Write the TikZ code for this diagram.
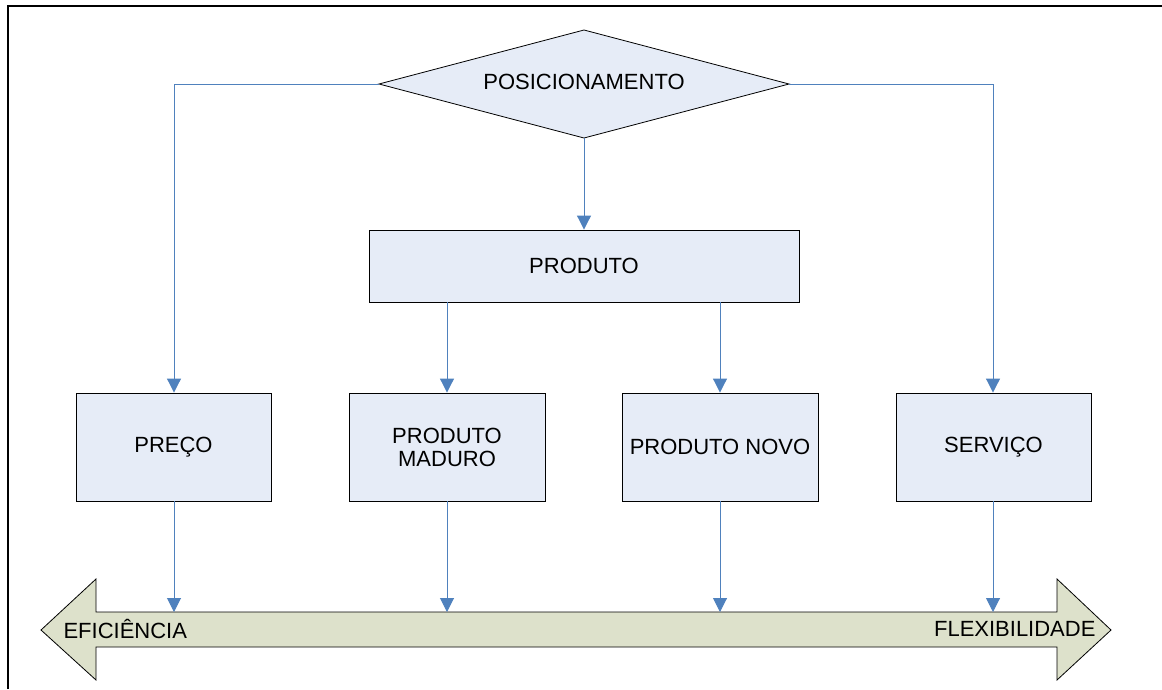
\documentclass[tikz,border=0pt]{standalone}
\usepackage{fontspec}
\setmainfont{Liberation Sans}
\usetikzlibrary{arrows.meta,shapes.geometric}
\definecolor{boxfill}{HTML}{E6ECF7}
\definecolor{arrowfill}{HTML}{DDE1CB}
\definecolor{conn}{HTML}{4F81BD}
\tikzset{
  lbl/.style={font=\fontsize{22}{23}\selectfont, text=black},
  box/.style={draw=black, line width=0.9pt, fill=boxfill, inner sep=0pt, lbl, align=center},
  conn/.style={draw=conn, line width=1pt, -{Triangle[width=14pt,length=14pt]}},
}
\begin{document}
\begin{tikzpicture}[x=1pt,y=-1pt]
\useasboundingbox (0,0) rectangle (1162,689);
% frame
\draw[line width=1.3pt] (8,689) -- (8,6) -- (1162,6);
% double arrow
\draw[fill=arrowfill, line width=0.8pt] (41,630) -- (96,579) -- (96,612) -- (1057,612) -- (1057,579) -- (1111,630) -- (1057,680) -- (1057,647) -- (96,647) -- (96,680) -- cycle;
\node[lbl, anchor=west] (efi) at (60,629) {EFICIÊNCIA};
\node[lbl, anchor=east] (flex) at (1099,629) {FLEXIBILIDADE};
\coordinate (a1) at (174,612);
\coordinate (a2) at (447,612);
\coordinate (a3) at (720,612);
\coordinate (a4) at (993,612);
% diamond
\draw[fill=boxfill, line width=0.8pt] (379,84) -- (584,30) -- (789,84) -- (584,138) -- cycle;
\coordinate (dl) at (379,84);
\coordinate (dr) at (789,84);
\coordinate (db) at (584,138);
\node[lbl] (pos) at (584,82) {POSICIONAMENTO};
% boxes
\node[box, minimum width=430pt, minimum height=72pt] (prod) at (584,266) {PRODUTO};
\node[box, minimum width=195pt, minimum height=108pt] (preco) at (173.5,447) {PREÇO};
\node[box, minimum width=196pt, minimum height=108pt] (mad) at (447,447) {PRODUTO\\MADURO};
\node[box, minimum width=196pt, minimum height=108pt] (novo) at (720,447) {PRODUTO NOVO};
\node[box, minimum width=195pt, minimum height=108pt] (serv) at (993.5,447) {SERVIÇO};
% connectors
\draw[conn] (dl) -- (174,84) -- (preco.north -| 174,0);
\draw[conn] (dr) -- (993,84) -- (serv.north -| 993,0);
\draw[conn] (db) -- (prod.north -| db);
\draw[conn] (prod.south -| mad.north) -- (mad.north);
\draw[conn] (prod.south -| novo.north) -- (novo.north);
\draw[conn] (preco.south -| a1) -- (a1);
\draw[conn] (mad.south -| a2) -- (a2);
\draw[conn] (novo.south -| a3) -- (a3);
\draw[conn] (serv.south -| a4) -- (a4);
\end{tikzpicture}
\end{document}
